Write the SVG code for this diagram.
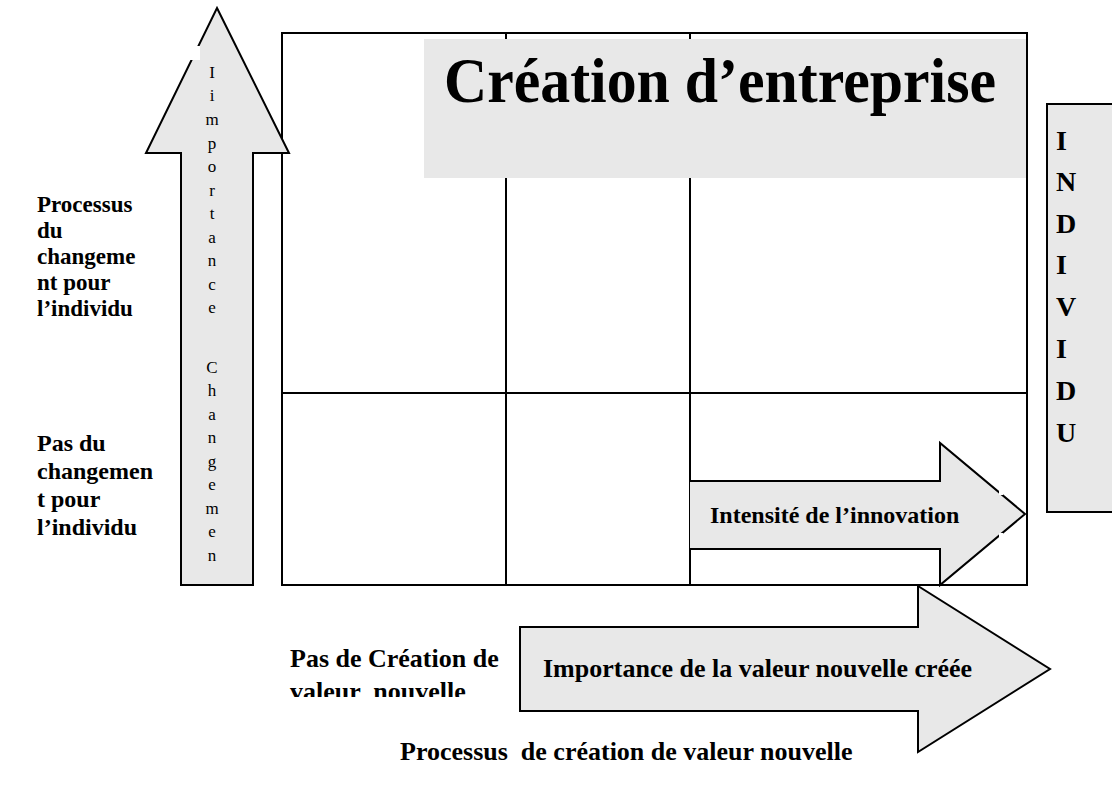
<svg xmlns="http://www.w3.org/2000/svg" width="1112" height="792" viewBox="0 0 1112 792">
<defs>
<style>
.t{font-family:"Liberation Serif","Times New Roman",serif;fill:#000}
.b{font-weight:bold}
.shape{fill:#e8e8e8;stroke:#000;stroke-width:2}
.line{fill:none;stroke:#000;stroke-width:2}
</style>
<clipPath id="clipPas"><rect x="280" y="630" width="240" height="67"/></clipPath>
</defs>
<rect width="1112" height="792" fill="#fff"/>

<g id="grid">
<rect x="282" y="33" width="745" height="552" class="line"/>
<line x1="506" y1="33" x2="506" y2="585" class="line"/>
<line x1="690" y1="33" x2="690" y2="585" class="line"/>
<line x1="282" y1="393" x2="1027" y2="393" class="line"/>
</g>

<g id="title">
<rect x="424" y="39" width="602" height="139" fill="#e8e8e8"/>
<text x="444" y="102" class="t b" font-size="64" textLength="552" lengthAdjust="spacingAndGlyphs">Création d’entreprise</text>
</g>

<g id="arrow-up">
<polygon points="217,8 289,153 253,153 253,585 181,585 181,153 146,153" class="shape"/>
<rect x="190" y="46" width="10" height="14" fill="#fff"/>
<g class="t" font-size="17" text-anchor="middle">
<text x="212" y="78">I</text>
<text x="212" y="101">i</text>
<text x="212" y="125">m</text>
<text x="212" y="149">p</text>
<text x="212" y="172">o</text>
<text x="212" y="196">r</text>
<text x="212" y="219">t</text>
<text x="212" y="243">a</text>
<text x="212" y="266">n</text>
<text x="212" y="290">c</text>
<text x="212" y="313">e</text>
<text x="212" y="373">C</text>
<text x="212" y="396">h</text>
<text x="212" y="420">a</text>
<text x="212" y="443">n</text>
<text x="212" y="467">g</text>
<text x="212" y="490">e</text>
<text x="212" y="514">m</text>
<text x="212" y="537">e</text>
<text x="212" y="561">n</text>
</g>
</g>

<g id="label-processus-changement">
<text class="t b" font-size="23">
<tspan x="37" y="212">Processus</tspan>
<tspan x="37" y="238">du</tspan>
<tspan x="37" y="264">changeme</tspan>
<tspan x="37" y="290">nt pour</tspan>
<tspan x="37" y="316">l’individu</tspan>
</text>
</g>

<g id="label-pas-changement">
<text class="t b" font-size="24">
<tspan x="37" y="451">Pas du</tspan>
<tspan x="37" y="479">changemen</tspan>
<tspan x="37" y="507">t pour</tspan>
<tspan x="37" y="535">l’individu</tspan>
</text>
</g>

<g id="arrow-intensite">
<polygon points="690,481 940,481 940,443 1025,514 940,585 940,549 690,549" fill="#e8e8e8"/>
<polyline points="690,481 940,481 940,443 1025,514 940,585 940,549 690,549" class="line"/>
<rect x="999" y="489" width="4" height="6" fill="#fff"/>
<rect x="999" y="533" width="4" height="6" fill="#fff"/>
<text x="710" y="523" class="t b" font-size="24">Intensité de l’innovation</text>
</g>

<g id="arrow-valeur">
<polygon points="520,627 918,627 918,586 1050,669 918,752 918,711 520,711" class="shape"/>
<text x="543" y="677" class="t b" font-size="26">Importance de la valeur nouvelle créée</text>
</g>

<g id="individu">
<rect x="1047" y="104" width="72" height="408" class="shape"/>
<g class="t b" font-size="28">
<text x="1056" y="150">I</text>
<text x="1056" y="191">N</text>
<text x="1056" y="233">D</text>
<text x="1056" y="274">I</text>
<text x="1056" y="316">V</text>
<text x="1056" y="358">I</text>
<text x="1056" y="400">D</text>
<text x="1056" y="442">U</text>
</g>
</g>

<g id="label-pas-creation">
<text class="t b" font-size="26" clip-path="url(#clipPas)" xml:space="preserve"><tspan x="290" y="667">Pas de Création de</tspan><tspan x="290" y="700">valeur  nouvelle</tspan></text>
</g>

<g id="label-processus-creation">
<text x="400" y="760" class="t b" font-size="26" xml:space="preserve">Processus  de création de valeur nouvelle</text>
</g>
</svg>
